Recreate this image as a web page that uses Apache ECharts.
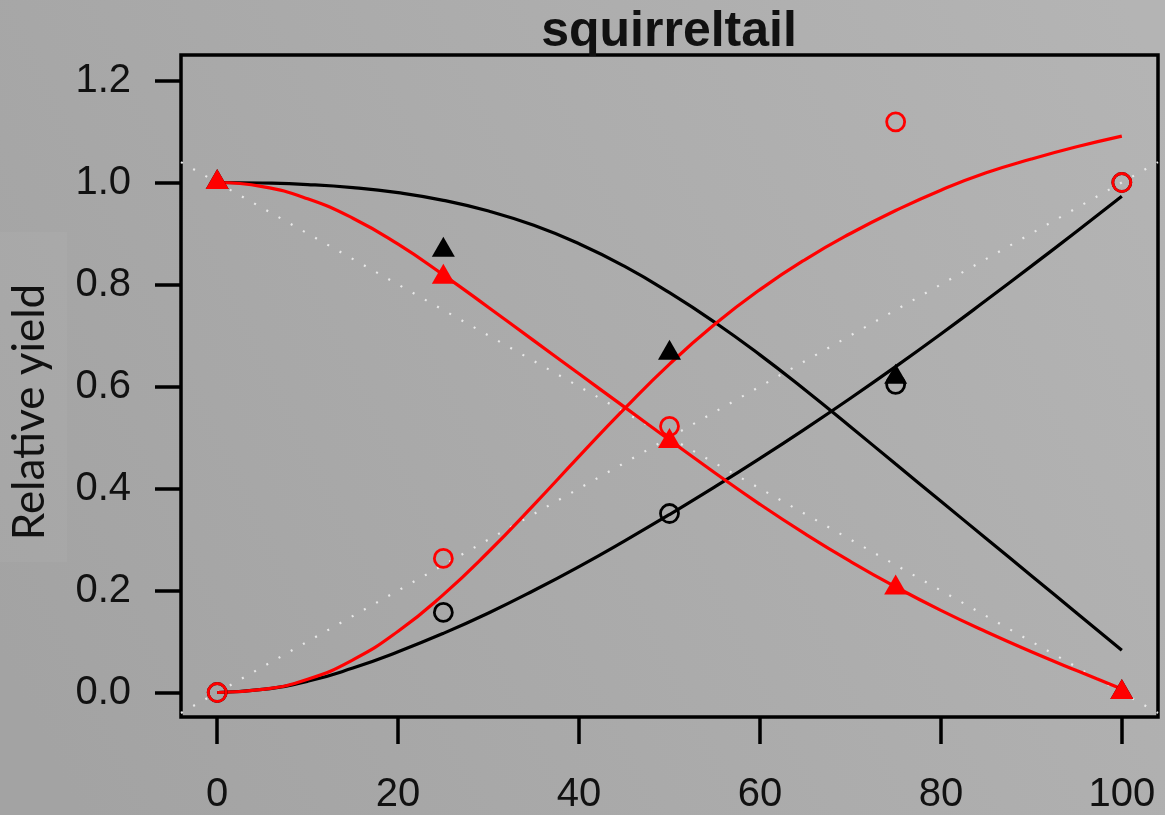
<!DOCTYPE html>
<html>
<head>
<meta charset="utf-8">
<script src="https://cdn.jsdelivr.net/npm/echarts@6/dist/echarts.min.js"></script>
<style>
html,body{margin:0;padding:0;}
#chart{width:1165px;height:815px;}
</style>
</head>
<body>
<div id="chart"></div>
<script>
// ---- data ----
const chartTitle = 'squirreltail';
const yAxisTitle = 'Relative yield';
const xTicks = [0, 20, 40, 60, 80, 100];
const yTicks = [0, 0.2, 0.4, 0.6, 0.8, 1.0, 1.2];

const xCurve = [0, 5, 10, 15, 20, 25, 30, 35, 40, 45, 50, 55, 60, 65, 70, 75, 80, 85, 90, 95, 100];
const blackDown = [1.0, 0.999, 0.996, 0.99, 0.98, 0.965, 0.944, 0.916, 0.88, 0.836, 0.784, 0.726, 0.662, 0.593, 0.521, 0.448, 0.375, 0.302, 0.229, 0.156, 0.083];
const blackUp   = [0.0, 0.006, 0.022, 0.048, 0.08, 0.116, 0.156, 0.2, 0.247, 0.297, 0.349, 0.403, 0.459, 0.517, 0.577, 0.639, 0.703, 0.769, 0.836, 0.904, 0.973];
const redDown   = [1.0, 0.992, 0.968, 0.93, 0.879, 0.819, 0.755, 0.69, 0.625, 0.56, 0.495, 0.431, 0.369, 0.311, 0.257, 0.207, 0.161, 0.119, 0.08, 0.043, 0.007];
const redUp     = [0.0, 0.006, 0.026, 0.064, 0.12, 0.192, 0.276, 0.368, 0.463, 0.556, 0.644, 0.722, 0.79, 0.849, 0.9, 0.945, 0.985, 1.019, 1.046, 1.07, 1.091];

const xPts = [0, 25, 50, 75, 100];
const blackTri  = [1.0, 0.867, 0.665, 0.618, 0.0];
const redTri    = [1.0, 0.814, 0.492, 0.205, 0.0];
const blackCirc = [0.0, 0.157, 0.351, 0.604, 1.0];
const redCirc   = [0.0, 0.263, 0.522, 1.119, 1.0];

const refX = [-4, 104];
const refDown = [1.04, -0.04];
const refUp = [-0.04, 1.04];

// ---- build ----
const zip = (xs, ys) => xs.map((x, i) => [x, ys[i]]);
const chart = echarts.init(document.getElementById('chart'), null, {renderer: 'canvas'});

const curve = (ys, color) => ({
  type: 'line', data: zip(xCurve, ys), smooth: 0.5, showSymbol: false, silent: true,
  lineStyle: {color: color, width: 3.2}, z: 3
});
const ref = (ys) => ({
  type: 'line', data: zip(refX, ys), showSymbol: false, silent: true,
  lineStyle: {color: '#e8e8e8', width: 2.2, type: [2, 12]}, z: 2
});
const tri = (ys, color) => ({
  type: 'scatter', data: zip(xPts, ys), symbol: 'triangle', symbolSize: [23, 20],
  symbolOffset: [0, -3.5], itemStyle: {color: color, opacity: 1}, z: 5
});
const circ = (ys, color) => ({
  type: 'scatter', data: zip(xPts, ys), symbol: 'circle', symbolSize: 18,
  itemStyle: {color: 'transparent', borderColor: color, borderWidth: 2.8, opacity: 1}, z: 6
});

const font = '"Liberation Sans", Arial, Helvetica, sans-serif';

chart.setOption({
  animation: false,
  backgroundColor: {
    type: 'linear', x: 0, y: 0.8, x2: 1, y2: 0.1,
    colorStops: [{offset: 0, color: '#a3a3a3'}, {offset: 1, color: '#b4b4b4'}]
  },
  grid: {left: 181, top: 55, right: 7, bottom: 97, show: true, borderColor: '#000', borderWidth: 3.5, backgroundColor: 'transparent'},
  xAxis: {
    type: 'value', min: -4, max: 104,
    axisLine: {show: false, onZero: false},
    splitLine: {show: false},
    axisTick: {show: true, inside: false, customValues: xTicks, length: 27, lineStyle: {color: '#000', width: 3.5}},
    axisLabel: {customValues: xTicks, margin: 58, fontSize: 40, color: '#111', fontFamily: font}
  },
  yAxis: {
    type: 'value', min: -0.048, max: 1.25,
    axisLine: {show: false, onZero: false},
    splitLine: {show: false},
    axisTick: {show: true, inside: false, customValues: yTicks, length: 26, lineStyle: {color: '#000', width: 3.5}},
    axisLabel: {customValues: yTicks, margin: 50, fontSize: 40, color: '#111', fontFamily: font,
      formatter: v => v.toFixed(1)}
  },
  graphic: [
    {type: 'rect', left: 0, top: 232, shape: {width: 67, height: 330}, style: {fill: 'rgba(255,255,255,0.04)'}, z: -1},
    {type: 'text', x: 669, y: 32, style: {text: chartTitle, font: 'bold 50px ' + font, fill: '#111', align: 'center', verticalAlign: 'middle'}},
    {type: 'text', x: 30, y: 412, rotation: Math.PI / 2,
      style: {text: yAxisTitle, font: '44px Lato, "Open Sans", sans-serif', fill: '#111', align: 'center', verticalAlign: 'middle'}}
  ],
  series: [
    ref(refDown), ref(refUp),
    curve(blackDown, '#000'), curve(blackUp, '#000'),
    curve(redDown, '#ff0000'), curve(redUp, '#ff0000'),
    tri(blackTri, '#000'), tri(redTri, '#ff0000'),
    circ(blackCirc, '#000'), circ(redCirc, '#ff0000')
  ]
});
</script>
</body>
</html>
